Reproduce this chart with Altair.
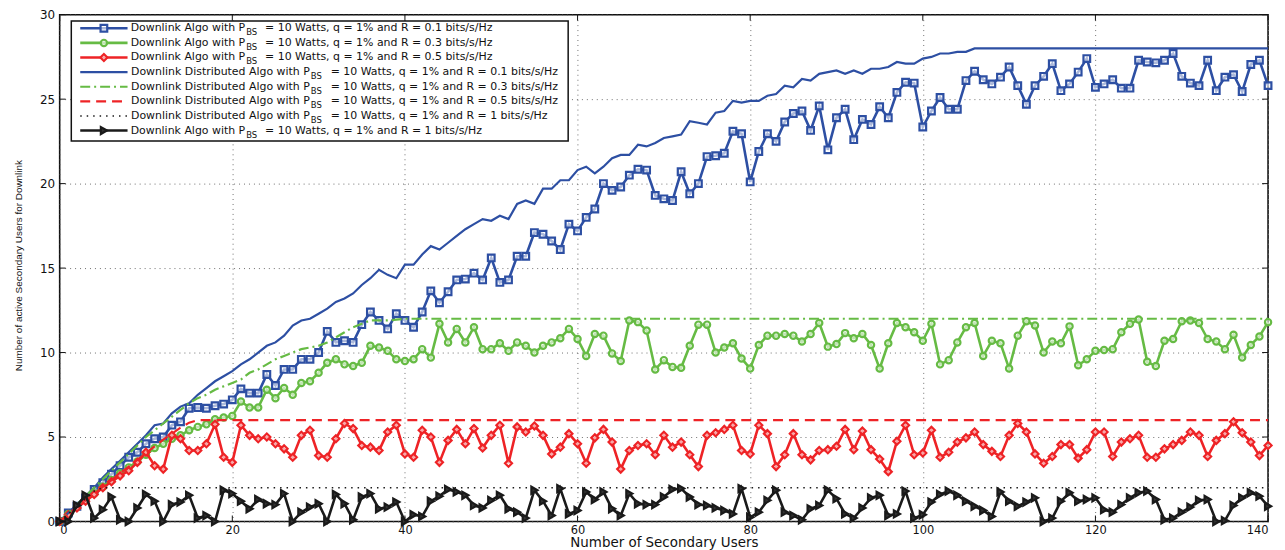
import altair as alt
import pandas as pd

# ---------------- data ----------------
users = list(range(141))  # number of secondary users, 0..140

algo_r01 = [
    0, 0.5, 0.9, 1.4, 1.9, 2.3, 2.8, 3.3, 3.8, 4.1,
    4.6, 4.9, 5.0, 5.7, 5.9, 6.7, 6.75, 6.7, 6.85, 6.95,
    7.2, 7.85, 7.6, 7.6, 8.7, 8.05, 9.0, 9.0, 9.6, 9.6,
    10.0, 11.25, 10.6, 10.7, 10.6, 11.65, 12.4, 11.9, 11.4, 12.3,
    11.9, 11.5, 12.4, 13.65, 12.95, 13.6, 14.3, 14.35, 14.7, 14.3,
    15.6, 14.15, 14.3, 15.7, 15.7, 17.1, 17.0, 16.6, 16.1, 17.6,
    17.2, 18.0, 18.5, 20.0, 19.6, 19.8, 20.5, 20.85, 20.8, 19.3,
    19.1, 19.0, 20.7, 19.4, 20.0, 21.6, 21.65, 21.8, 23.1, 22.95,
    20.1, 21.9, 22.95, 22.5, 23.65, 24.15, 24.3, 23.15, 24.6, 22.0,
    23.9, 24.4, 22.6, 23.8, 23.5, 24.55, 23.9, 25.4, 26.0, 25.95,
    23.35, 24.3, 25.1, 24.4, 24.4, 26.1, 26.65, 26.15, 25.9, 26.3,
    26.9, 25.8, 24.7, 25.8, 26.35, 27.1, 25.5, 25.9, 26.6, 27.4,
    25.7, 25.9, 26.15, 25.65, 25.65, 27.3, 27.2, 27.15, 27.3, 27.7,
    26.35, 25.95, 25.8, 27.3, 25.5, 26.3, 26.45, 25.45, 27.05, 27.3,
    25.8,
]

algo_r03 = [
    0, 0.45, 0.85, 1.25, 1.65, 2.05, 2.45, 2.85, 3.2, 3.55,
    3.95, 4.35, 4.6, 4.9, 5.1, 5.4, 5.6, 5.75, 6.05, 6.15,
    6.25, 7.1, 6.75, 6.75, 7.8, 7.3, 7.9, 7.5, 8.2, 8.3,
    8.8, 9.4, 9.6, 9.3, 9.2, 9.4, 10.4, 10.3, 10.1, 9.6,
    9.5, 9.6, 10.2, 9.7, 11.7, 10.6, 11.4, 10.6, 11.5, 10.2,
    10.2, 10.55, 10.1, 10.6, 10.4, 10.0, 10.4, 10.6, 10.85, 11.4,
    10.8, 9.8, 11.1, 11.0, 9.95, 9.5, 11.9, 11.8, 11.3, 9.0,
    9.55, 9.15, 9.1, 10.4, 11.65, 11.65, 10.0, 10.3, 10.55, 9.65,
    9.05, 10.45, 11.0, 11.0, 11.1, 11.0, 10.65, 11.1, 11.75, 10.35,
    10.5, 11.15, 10.85, 11.1, 10.45, 9.05, 10.55, 11.75, 11.5, 11.2,
    10.7, 11.7, 9.3, 9.55, 10.6, 11.5, 11.75, 9.8, 10.7, 10.55,
    9.05, 11.0, 11.85, 11.6, 10.0, 10.65, 10.55, 11.55, 9.25, 9.6,
    10.1, 10.15, 10.2, 11.2, 11.7, 11.95, 9.45, 9.2, 10.7, 10.8,
    11.85, 11.9, 11.75, 10.8, 10.65, 10.2, 11.05, 9.7, 10.45, 10.95,
    11.8,
]

algo_r05 = [
    0, 0.4, 0.8, 1.2, 1.6, 2.0, 2.35, 2.7, 3.0, 3.5,
    4.1, 3.3, 3.1, 5.1, 4.9, 4.2, 4.2, 4.6, 5.75, 3.8,
    3.5, 5.7, 5.1, 4.9, 5.0, 4.6, 4.3, 3.8, 5.1, 5.4,
    3.9, 3.8, 4.9, 5.8, 5.5, 4.5, 4.4, 4.2, 5.3, 5.7,
    4.0, 3.8, 5.4, 5.0, 3.5, 4.8, 5.45, 4.6, 5.5, 4.35,
    5.1, 5.7, 3.45, 5.6, 5.3, 5.65, 5.1, 4.0, 4.4, 5.2,
    4.6, 3.45, 4.95, 5.45, 4.7, 3.1, 4.2, 4.5, 4.6, 3.95,
    5.1, 4.4, 4.7, 3.95, 3.25, 5.1, 5.25, 5.45, 5.7, 4.2,
    4.0, 5.7, 5.2, 3.25, 3.95, 5.2, 3.95, 3.65, 4.2, 4.25,
    4.45, 5.45, 4.25, 5.35, 4.25, 3.7, 2.95, 4.75, 5.7, 3.95,
    4.05, 5.4, 3.8, 4.1, 4.7, 4.95, 5.3, 4.55, 4.15, 3.85,
    5.1, 5.8, 5.3, 4.0, 3.45, 3.85, 4.55, 4.55, 3.75, 4.25,
    5.3, 5.3, 3.85, 4.7, 4.9, 5.1, 3.8, 3.8, 4.3, 4.55,
    4.8, 5.3, 5.1, 3.85, 4.8, 5.2, 5.9, 5.25, 4.7, 3.9,
    4.5,
]

algo_r1 = [
    0, 0.0, 0.95, 1.55, 0.2, 0.7, 1.45, 0.1, 0.0, 0.8,
    1.6, 1.2, 0.0, 1.0, 1.15, 1.55, 0.2, 0.35, 0.0, 1.85,
    1.65, 1.2, 0.75, 1.3, 1.05, 1.0, 1.65, 0.0, 0.55, 0.85,
    1.05, 0.0, 1.6, 1.05, 0.1, 1.45, 1.65, 0.75, 0.85, 1.15,
    0.0, 0.4, 0.3, 1.2, 1.5, 1.9, 1.75, 1.55, 0.95, 0.8,
    1.25, 1.55, 0.75, 0.55, 0.2, 1.85, 1.2, 0.35, 1.95, 0.45,
    0.65, 1.75, 1.3, 1.75, 0.75, 0.35, 1.65, 1.05, 1.0, 1.0,
    1.45, 1.9, 1.95, 1.45, 1.0, 0.95, 0.8, 0.65, 0.45, 1.95,
    0.25, 0.55, 1.25, 1.85, 0.55, 0.35, 0.1, 0.75, 0.95, 1.85,
    1.35, 0.45, 0.2, 0.8, 1.4, 1.55, 0.35, 0.45, 1.8, 0.2,
    0.4, 1.15, 1.6, 1.8, 1.55, 1.2, 0.9, 0.65, 0.3, 1.75,
    1.2, 0.9, 1.15, 1.4, 0.0, 0.2, 1.2, 1.7, 1.2, 1.3,
    1.4, 0.7, 0.55, 1.0, 1.4, 1.7, 1.8, 1.3, 0.1, 0.2,
    0.55, 0.85, 1.25, 1.3, 0.0, 0.05, 0.95, 1.4, 1.7, 1.5,
    0.9,
]

dist_r01 = [
    0, 0.5, 1.0, 1.5, 2.0, 2.6, 3.1, 3.6, 4.1, 4.6,
    5.1, 5.7, 5.8, 6.4, 6.8, 7.0, 7.5, 7.9, 8.3, 8.6,
    8.9, 9.3, 9.6, 10.0, 10.4, 10.6, 11.0, 11.6, 11.9, 12.0,
    12.3, 12.6, 13.0, 13.2, 13.5, 14.0, 14.4, 14.9, 14.6, 14.4,
    15.2, 15.2, 15.8, 16.3, 16.1, 16.5, 16.9, 17.3, 17.6, 17.9,
    17.8, 18.1, 17.9, 18.8, 19.0, 18.8, 19.7, 19.7, 20.2, 20.2,
    20.8, 21.0, 20.6, 21.0, 21.5, 21.7, 21.7, 22.3, 22.2, 22.4,
    22.7, 22.8, 22.9, 23.7, 23.6, 23.5, 24.2, 24.3, 24.9, 24.8,
    24.9, 24.9, 25.2, 25.3, 25.8, 25.7, 26.2, 26.1, 26.5, 26.6,
    26.7, 26.5, 26.7, 26.5, 26.8, 26.8, 26.9, 27.2, 27.1, 27.1,
    27.4, 27.5, 27.7, 27.7, 27.8, 27.8, 28, 28, 28, 28,
    28, 28, 28, 28, 28, 28, 28, 28, 28, 28,
    28, 28, 28, 28, 28, 28, 28, 28, 28, 28,
    28, 28, 28, 28, 28, 28, 28, 28, 28, 28,
    28,
]

dist_r03 = [
    0, 0.5, 1.0, 1.5, 2.0, 2.5, 3.0, 3.5, 4.0, 4.5,
    5.0, 5.4, 5.8, 6.2, 6.6, 7.0, 7.3, 7.5, 7.8, 8.0,
    8.2, 8.4, 8.8, 9.0, 9.3, 9.6, 9.8, 10.0, 10.2, 10.3,
    10.4, 10.6, 10.9, 11.2, 11.5, 11.7, 11.9, 11.9, 11.9, 11.95,
    12, 12, 12, 12, 12, 12, 12, 12, 12, 12,
    12, 12, 12, 12, 12, 12, 12, 12, 12, 12,
    12, 12, 12, 12, 12, 12, 12, 12, 12, 12,
    12, 12, 12, 12, 12, 12, 12, 12, 12, 12,
    12, 12, 12, 12, 12, 12, 12, 12, 12, 12,
    12, 12, 12, 12, 12, 12, 12, 12, 12, 12,
    12, 12, 12, 12, 12, 12, 12, 12, 12, 12,
    12, 12, 12, 12, 12, 12, 12, 12, 12, 12,
    12, 12, 12, 12, 12, 12, 12, 12, 12, 12,
    12, 12, 12, 12, 12, 12, 12, 12, 12, 12,
    12,
]

dist_r05 = [
    0, 0.45, 0.85, 1.25, 1.65, 2.05, 2.45, 2.85, 3.25, 3.65,
    4.05, 4.45, 4.85, 5.2, 5.55, 5.85, 6, 6, 6, 6,
    6, 6, 6, 6, 6, 6, 6, 6, 6, 6,
    6, 6, 6, 6, 6, 6, 6, 6, 6, 6,
    6, 6, 6, 6, 6, 6, 6, 6, 6, 6,
    6, 6, 6, 6, 6, 6, 6, 6, 6, 6,
    6, 6, 6, 6, 6, 6, 6, 6, 6, 6,
    6, 6, 6, 6, 6, 6, 6, 6, 6, 6,
    6, 6, 6, 6, 6, 6, 6, 6, 6, 6,
    6, 6, 6, 6, 6, 6, 6, 6, 6, 6,
    6, 6, 6, 6, 6, 6, 6, 6, 6, 6,
    6, 6, 6, 6, 6, 6, 6, 6, 6, 6,
    6, 6, 6, 6, 6, 6, 6, 6, 6, 6,
    6, 6, 6, 6, 6, 6, 6, 6, 6, 6,
    6,
]

dist_r1 = [
    0, 0.45, 0.9, 1.35, 1.8, 2, 2, 2, 2, 2,
    2, 2, 2, 2, 2, 2, 2, 2, 2, 2,
    2, 2, 2, 2, 2, 2, 2, 2, 2, 2,
    2, 2, 2, 2, 2, 2, 2, 2, 2, 2,
    2, 2, 2, 2, 2, 2, 2, 2, 2, 2,
    2, 2, 2, 2, 2, 2, 2, 2, 2, 2,
    2, 2, 2, 2, 2, 2, 2, 2, 2, 2,
    2, 2, 2, 2, 2, 2, 2, 2, 2, 2,
    2, 2, 2, 2, 2, 2, 2, 2, 2, 2,
    2, 2, 2, 2, 2, 2, 2, 2, 2, 2,
    2, 2, 2, 2, 2, 2, 2, 2, 2, 2,
    2, 2, 2, 2, 2, 2, 2, 2, 2, 2,
    2, 2, 2, 2, 2, 2, 2, 2, 2, 2,
    2, 2, 2, 2, 2, 2, 2, 2, 2, 2,
    2,
]

x_ticks = [0, 20, 40, 60, 80, 100, 120, 140]
y_ticks = [0, 5, 10, 15, 20, 25, 30]

legend_prefix = [
    "Downlink Algo with P",
    "Downlink Algo with P",
    "Downlink Algo with P",
    "Downlink Distributed Algo with P",
    "Downlink Distributed Algo with P",
    "Downlink Distributed Algo with P",
    "Downlink Distributed Algo with P",
    "Downlink Algo with P",
]
legend_sub = "BS"
legend_suffix = [
    " = 10 Watts, q = 1% and R = 0.1 bits/s/Hz",
    " = 10 Watts, q = 1% and R = 0.3 bits/s/Hz",
    " = 10 Watts, q = 1% and R = 0.5 bits/s/Hz",
    " = 10 Watts, q = 1% and R = 0.1 bits/s/Hz",
    " = 10 Watts, q = 1% and R = 0.3 bits/s/Hz",
    " = 10 Watts, q = 1% and R = 0.5 bits/s/Hz",
    " = 10 Watts, q = 1% and R = 1 bits/s/Hz",
    " = 10 Watts, q = 1% and R = 1 bits/s/Hz",
]

# ---------------- styling ----------------
BLUE = "#2D4FA3"
GREEN = "#66BB44"
RED = "#EE2326"
BLACK = "#1A1A1A"
FONT = "DejaVu Sans"
W, H = 1216, 510

DASHDOT = [10, 4, 2, 4]
DASHED = [10, 6]
DOTTED = [1.5, 5]

xs = alt.X(
    "x:Q",
    scale=alt.Scale(domain=[0, 140], nice=False, zero=False),
    axis=alt.Axis(
        values=x_ticks, format="d", title="Number of Secondary Users",
        grid=True, gridDash=[1, 4], gridColor="#707070", gridWidth=1,
        domain=False, ticks=False,
        labelFont=FONT, labelFontSize=11.5, labelColor="#111", labelPadding=3,
        titleFont=FONT, titleFontSize=13.5, titleFontWeight="normal", titleColor="#111",
        titleY=14, titleBaseline="top",
    ),
)
ys = alt.Y(
    "y:Q",
    scale=alt.Scale(domain=[0, 30], nice=False, zero=False),
    axis=alt.Axis(
        values=y_ticks, format="d", title="Number of active Secondary Users for Downlink",
        grid=True, gridDash=[1, 4], gridColor="#707070", gridWidth=1,
        domain=False, ticks=False,
        labelFont=FONT, labelFontSize=12, labelColor="#111", labelPadding=5,
        titleFont="Liberation Sans", titleFontSize=10, titleFontWeight="normal", titleColor="#111",
        titleX=-36, titleY=252,
    ),
)


def frame(vals):
    return pd.DataFrame({"x": users, "y": vals})


layers = []


def add_line(vals, color, width, dash=None):
    kw = dict(color=color, strokeWidth=width, strokeCap="butt")
    if dash:
        kw["strokeDash"] = dash
    layers.append(alt.Chart(frame(vals)).mark_line(**kw).encode(x=xs, y=ys))


def add_points(vals, color, shape, size, sw, fill, fill_op):
    layers.append(
        alt.Chart(frame(vals))
        .mark_point(shape=shape, size=size, filled=True, fill=fill, fillOpacity=fill_op,
                    stroke=color, strokeWidth=sw, opacity=1)
        .encode(x=xs, y=ys)
    )


add_line(algo_r01, BLUE, 2.6)
add_points(algo_r01, BLUE, "square", 45, 2.2, "white", 0.6)
add_line(algo_r03, GREEN, 2.6)
add_points(algo_r03, GREEN, "circle", 40, 2.2, "white", 0.6)
add_line(algo_r05, RED, 2.6)
add_points(algo_r05, RED, "diamond", 50, 2.2, "white", 0.6)
add_line(dist_r01, BLUE, 2.2)
add_line(dist_r03, GREEN, 2.2, DASHDOT)
add_line(dist_r05, RED, 2.2, DASHED)
add_line(dist_r1, BLACK, 1.6, DOTTED)
add_line(algo_r1, BLACK, 2.6)
add_points(algo_r1, BLACK, "triangle-right", 50, 2.2, "#333333", 1.0)

# inward tick marks on all four sides (MATLAB style)
xt = pd.DataFrame({"x": x_ticks})
yt = pd.DataFrame({"y": y_ticks})
layers.append(alt.Chart(xt).mark_rule(color="#111", strokeWidth=1).encode(x=xs, y=alt.value(H), y2=alt.value(H - 6)))
layers.append(alt.Chart(xt).mark_rule(color="#111", strokeWidth=1).encode(x=xs, y=alt.value(0), y2=alt.value(6)))
layers.append(alt.Chart(yt).mark_rule(color="#111", strokeWidth=1).encode(y=ys, x=alt.value(0), x2=alt.value(6)))
layers.append(alt.Chart(yt).mark_rule(color="#111", strokeWidth=1).encode(y=ys, x=alt.value(W), x2=alt.value(W - 6)))

# ---------------- legend (drawn manually, subscript needs 3 text pieces) ----------------
one = pd.DataFrame({"k": [0]})
layers.append(
    alt.Chart(one).mark_rect(fill="white", stroke="#111", strokeWidth=1.5)
    .encode(x=alt.value(11.7), x2=alt.value(511.7), y=alt.value(6.3), y2=alt.value(127))
)

legend_style = [
    dict(color=BLUE, width=2.6, dash=None, shape="square", size=45, fill="white", fop=0.6),
    dict(color=GREEN, width=2.6, dash=None, shape="circle", size=40, fill="white", fop=0.6),
    dict(color=RED, width=2.6, dash=None, shape="diamond", size=50, fill="white", fop=0.6),
    dict(color=BLUE, width=2.2, dash=None, shape=None),
    dict(color=GREEN, width=2.2, dash=DASHDOT, shape=None),
    dict(color=RED, width=2.2, dash=DASHED, shape=None),
    dict(color=BLACK, width=1.6, dash=DOTTED, shape=None),
    dict(color=BLACK, width=2.6, dash=None, shape="triangle-right", size=50, fill="#333333", fop=1.0),
]

for i, st in enumerate(legend_style):
    ry = 13.7 + 14.7 * i
    rkw = dict(color=st["color"], strokeWidth=st["width"], strokeCap="butt")
    if st["dash"]:
        rkw["strokeDash"] = st["dash"]
    layers.append(alt.Chart(one).mark_rule(**rkw).encode(x=alt.value(20.7), x2=alt.value(68.3), y=alt.value(ry)))
    if st["shape"]:
        layers.append(
            alt.Chart(one).mark_point(shape=st["shape"], size=st["size"], filled=True, fill=st["fill"],
                                      fillOpacity=st["fop"], stroke=st["color"], strokeWidth=2.2, opacity=1)
            .encode(x=alt.value(44.5), y=alt.value(ry))
        )
    dist = legend_prefix[i].startswith("Downlink Distributed")
    p_end = 251.7 if dist else 186.7
    s_start = 272.7 if dist else 206.7
    layers.append(
        alt.Chart(one).mark_text(align="right", baseline="middle", font=FONT, fontSize=11, color="#111")
        .encode(x=alt.value(p_end), y=alt.value(ry), text=alt.value(legend_prefix[i]))
    )
    layers.append(
        alt.Chart(one).mark_text(align="left", baseline="middle", font=FONT, fontSize=8.5, color="#111")
        .encode(x=alt.value(p_end + 1), y=alt.value(ry + 4), text=alt.value(legend_sub))
    )
    layers.append(
        alt.Chart(one).mark_text(align="left", baseline="middle", font=FONT, fontSize=11, color="#111")
        .encode(x=alt.value(s_start), y=alt.value(ry), text=alt.value(legend_suffix[i]))
    )

chart = (
    alt.layer(*layers)
    .properties(
        width=W, height=H,
        autosize=alt.AutoSizeParams(type="none"),
        padding={"left": 52, "top": 5, "right": 9, "bottom": 30},
        background="white",
    )
    .configure_view(stroke="#111", strokeWidth=1.6)
)

chart.save("out.html", embed_options={"renderer": "svg", "actions": False})
